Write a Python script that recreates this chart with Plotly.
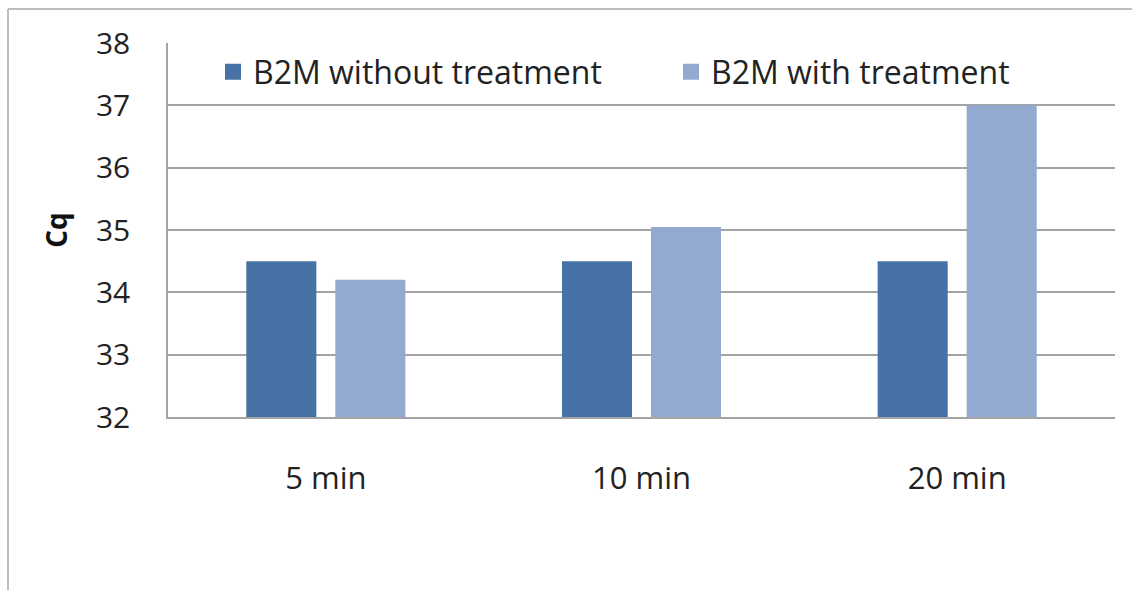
import plotly.graph_objects as go

# Cq values of B2M at each incubation time
times = ["5 min", "10 min", "20 min"]
cq_untreated = [34.5, 34.5, 34.5]
cq_treated = [34.2, 35.05, 37.0]
series_names = ["B2M without treatment", "B2M with treatment"]
series_colors = ["#4672A6", "#93A9CF"]
y_ticks = [32, 33, 34, 35, 36, 37, 38]

W, H = 1132, 590
L, R, T, B = 168, 17, 43, 173
PW, PH = W - L - R, H - T - B


def px_x(x):
    return (x - L) / PW


def px_y(y):
    return (H - B - y) / PH


FONT = "Open Sans"
GRID = "#A3A3A3"
TEXT = "#222222"

fig = go.Figure()
for vals, name, color in zip([cq_untreated, cq_treated], series_names, series_colors):
    fig.add_trace(go.Bar(x=times, y=vals, name=name, showlegend=False,
                         marker=dict(color=color, line=dict(width=0))))

# legend keys with larger square swatches, one legend box per series
for i, (name, color) in enumerate(zip(series_names, series_colors)):
    fig.add_trace(go.Scatter(x=[None], y=[None], mode="markers", name=name,
                             legend="legend" if i == 0 else "legend2",
                             marker=dict(symbol="square", size=18, color=color),
                             hoverinfo="skip"))

legend_style = dict(orientation="h", y=px_y(72), xanchor="left", yanchor="middle",
                    bgcolor="rgba(0,0,0,0)", itemwidth=30,
                    font=dict(family=FONT, size=32, color=TEXT))

fig.update_layout(
    width=W, height=H,
    margin=dict(l=L, r=R, t=T, b=B),
    paper_bgcolor="white", plot_bgcolor="white",
    barmode="group", bargap=0.436, bargroupgap=0.213,
    font=dict(family=FONT, size=31, color=TEXT),
    showlegend=True,
    legend=dict(x=px_x(213), **legend_style),
    legend2=dict(x=px_x(671), **legend_style),
    shapes=[
        dict(type="line", xref="paper", yref="paper",
             x0=px_x(8), y0=px_y(9), x1=px_x(1140), y1=px_y(9),
             line=dict(color="#BDBDBD", width=2)),
        dict(type="line", xref="paper", yref="paper",
             x0=px_x(8), y0=px_y(9), x1=px_x(8), y1=px_y(600),
             line=dict(color="#BDBDBD", width=2)),
    ],
)

fig.update_yaxes(
    range=[32, 38], tickvals=y_ticks, ticks="",
    showgrid=True, gridcolor=GRID, gridwidth=1.5,
    showline=True, linecolor=GRID, linewidth=1.5,
    zeroline=False, ticklabelstandoff=30,
    tickfont=dict(family=FONT, size=30, color=TEXT),
    title=dict(text="<b>Cq</b>", standoff=20,
               font=dict(family=FONT, size=28, color="#111111")),
)
fig.update_xaxes(
    showline=True, linecolor=GRID, linewidth=1.5, ticks="",
    ticklabelstandoff=33,
    tickfont=dict(family=FONT, size=31, color=TEXT),
)

fig.write_html("out.html")
